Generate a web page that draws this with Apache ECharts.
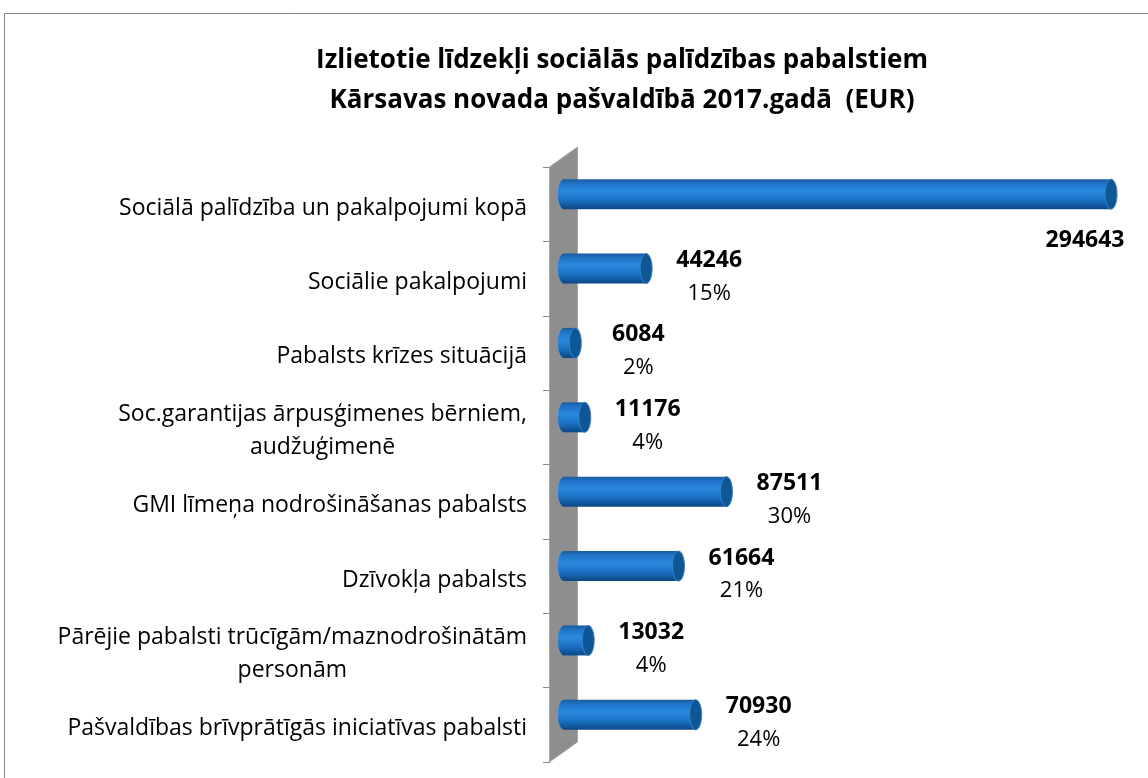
<!DOCTYPE html>
<html>
<head>
<meta charset="utf-8">
<title>Izlietotie līdzekļi</title>
<script src="https://cdn.jsdelivr.net/npm/echarts@6/dist/echarts.min.js"></script>
<style>
  html, body { margin: 0; padding: 0; background: #fff; }
  #chart { width: 1148px; height: 778px; }
</style>
</head>
<body>
<div id="chart"></div>
<script>
var categories = [
  'Sociālā palīdzība un pakalpojumi kopā',
  'Sociālie pakalpojumi',
  'Pabalsts krīzes situācijā',
  'Soc.garantijas ārpusģimenes bērniem,\naudžuģimenē',
  'GMI līmeņa nodrošināšanas pabalsts',
  'Dzīvokļa pabalsts',
  'Pārējie pabalsti trūcīgām/maznodrošinātām\npersonām',
  'Pašvaldības brīvprātīgās iniciatīvas pabalsti'
];
var values = [294643, 44246, 6084, 11176, 87511, 61664, 13032, 70930];
var percents = [null, 15, 2, 4, 30, 21, 4, 24];

var FONT = '"Open Sans", Lato, sans-serif';
// 3D depth offset of the bars (half of the wall depth)
var DX = 14, DY = -10;

var bodyGrad = new echarts.graphic.LinearGradient(0, 0, 0, 1, [
  { offset: 0, color: '#1a5c9e' },
  { offset: 0.15, color: '#1f74c6' },
  { offset: 0.4, color: '#2a8ade' },
  { offset: 0.7, color: '#1a70c2' },
  { offset: 1, color: '#0c4683' }
]);

function renderWall(params, api) {
  var cs = params.coordSys;
  var l = cs.x - 0.5, t = cs.y, b = cs.y + cs.height;
  return {
    type: 'polygon',
    shape: { points: [[l, b], [l, t], [l + 28, t - 20], [l + 28, b - 20]] },
    style: { fill: '#8e8e8e', stroke: '#a8a8a8', lineWidth: 1 }
  };
}

function renderBar(params, api) {
  var v = api.value(0), i = api.value(1);
  var s = api.coord([0, i]);
  var e = api.coord([v, i]);
  var rx = 6, ry = 15;
  var x0 = s[0] + DX, x1 = e[0] + DX, yc = s[1] + DY;
  var children = [
    { type: 'ellipse', shape: { cx: x0, cy: yc, rx: rx, ry: ry }, style: { fill: bodyGrad } },
    { type: 'rect', shape: { x: x0, y: yc - ry, width: x1 - x0, height: ry * 2 }, style: { fill: bodyGrad } },
    { type: 'ellipse', shape: { cx: x1, cy: yc, rx: rx, ry: ry }, style: { fill: '#0e5797', stroke: '#2f83cf', lineWidth: 1 } }
  ];
  var p = percents[params.dataIndex];
  if (p == null) {
    children.push({ type: 'text', style: { text: String(values[params.dataIndex]), x: x1 - 26, y: yc + 46,
      align: 'center', verticalAlign: 'middle', fill: '#000', font: 'bold 23px ' + FONT } });
  } else {
    children.push({ type: 'text', style: { text: String(values[params.dataIndex]), x: x1 + 63, y: yc - 8,
      align: 'center', verticalAlign: 'middle', fill: '#000', font: 'bold 23px ' + FONT } });
    children.push({ type: 'text', style: { text: p + '%', x: x1 + 63, y: yc + 25,
      align: 'center', verticalAlign: 'middle', fill: '#000', font: '22px ' + FONT } });
  }
  return { type: 'group', children: children };
}

var chart = echarts.init(document.getElementById('chart'));
chart.setOption({
  backgroundColor: '#fff',
  animation: false,
  title: {
    text: 'Izlietotie līdzekļi sociālās palīdzības pabalstiem\nKārsavas novada pašvaldībā 2017.gadā  (EUR)',
    left: 617,
    textAlign: 'center',
    top: 36,
    textStyle: { fontFamily: FONT, fontWeight: 'bold', fontSize: 26, lineHeight: 40, color: '#000' }
  },
  graphic: [{
    type: 'rect', z: -1,
    shape: { x: 4.5, y: 13.5, width: 1200, height: 800 },
    style: { fill: null, stroke: '#888', lineWidth: 1 }
  }],
  grid: { left: 550, right: 41, top: 167, bottom: 16 },
  xAxis: { type: 'value', min: 0, max: 300000, show: false },
  yAxis: {
    type: 'category',
    inverse: true,
    data: categories,
    axisLine: { show: true, lineStyle: { color: '#888' } },
    axisTick: { show: true, length: 7, lineStyle: { color: '#888' } },
    axisLabel: {
      margin: 23,
      padding: [8, 0, 0, 0],
      formatter: function (v) {
        return v.split('\n').map(function (l) { return '{c|' + l + '}'; }).join('\n');
      },
      rich: { c: { align: 'center', fontFamily: FONT, fontSize: 23, lineHeight: 33, color: '#000' } }
    }
  },
  series: [
    { type: 'custom', z: 1, renderItem: renderWall, data: [[0, 0]], encode: { x: 0, y: 1 }, silent: true },
    {
      type: 'custom', z: 2, renderItem: renderBar,
      data: values.map(function (v, i) { return [v, i]; }),
      encode: { x: 0, y: 1 }
    }
  ]
});
</script>
</body>
</html>
